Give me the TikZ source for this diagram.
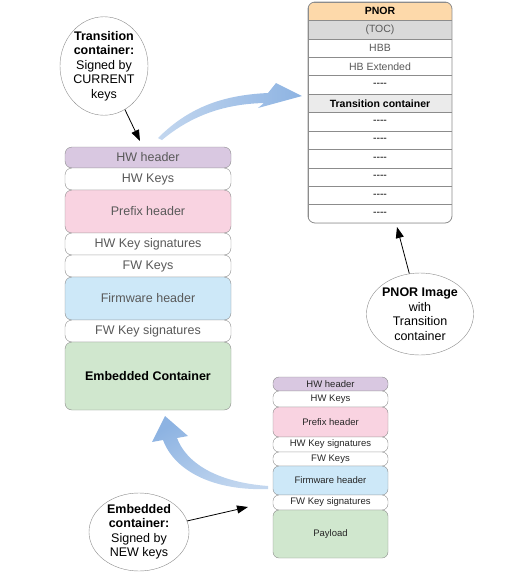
\documentclass[tikz,border=0pt]{standalone}
\usepackage{fontspec}
\setmainfont{Liberation Sans}
\usetikzlibrary{shapes.geometric,arrows.meta,calc}
\definecolor{bordc}{HTML}{8C8C8C}
\definecolor{txtg}{HTML}{595959}
\definecolor{hwc}{HTML}{D9C8E1}
\definecolor{prec}{HTML}{F9D3E1}
\definecolor{fwc}{HTML}{CDE8F8}
\definecolor{embc}{HTML}{D0E7CE}
\definecolor{pnorc}{HTML}{FDD9AA}
\definecolor{tocc}{HTML}{D9D9D9}
\definecolor{trc}{HTML}{EBEBEB}
\definecolor{bluea}{HTML}{8DB3E2}
\definecolor{blueb}{HTML}{C3D7EF}
\newcommand{\dsh}{-{}-{}-{}-}
\begin{document}
\begin{tikzpicture}[x=1pt,y=-1pt,
  bigrow/.style={draw=bordc, rounded corners=7pt, minimum width=166pt, inner sep=0pt, font=\fontsize{12.5}{14}\selectfont, text=txtg, fill=white},
  smallrow/.style={draw=bordc, rounded corners=6pt, minimum width=115pt, inner sep=0pt, font=\fontsize{9.5}{10}\selectfont, text=black!85, fill=white},
  pnorrow/.style={draw=bordc, minimum width=144pt, minimum height=18.42pt, inner sep=0pt, font=\fontsize{10.5}{12}\selectfont, fill=white},
  bubble/.style={ellipse, draw=bordc, fill=white, inner sep=0pt, align=center, font=\fontsize{12.5}{14.5}\selectfont},
  ptr/.style={draw=black, thick, -{Triangle[length=11pt,width=8pt]}}
]
\useasboundingbox (0,0) rectangle (504,579);
% left stack
\node[bigrow, fill=hwc, minimum height=21pt] (lhwh) at (148,157.5) {HW header};
\node[bigrow, minimum height=22pt] (lhwk) at (148,179) {HW Keys};
\node[bigrow, fill=prec, minimum height=43pt] (lpre) at (148,211.5) {Prefix header};
\node[bigrow, minimum height=22pt] (lhks) at (148,244) {HW Key signatures};
\node[bigrow, minimum height=22pt] (lfwk) at (148,266) {FW Keys};
\node[bigrow, fill=fwc, minimum height=43pt] (lfwh) at (148,298.5) {Firmware header};
\node[bigrow, minimum height=22pt] (lfks) at (148,331) {FW Key signatures};
\node[bigrow, fill=embc, minimum height=68pt, text=black, font=\fontsize{12.5}{14}\selectfont\bfseries] (lemb) at (148,376) {Embedded Container};
% right small stack
\node[smallrow, fill=hwc, minimum height=14pt] (shwh) at (330.5,384) {HW\ header};
\node[smallrow, minimum height=16pt] (shwk) at (330.5,399) {HW\ Keys};
\node[smallrow, fill=prec, minimum height=30pt] (spre) at (330.5,422) {Prefix header};
\node[smallrow, minimum height=15pt] (shks) at (330.5,444.5) {HW\ Key signatures};
\node[smallrow, minimum height=14pt] (sfwk) at (330.5,459) {FW\ Keys};
\node[smallrow, fill=fwc, minimum height=29pt] (sfwh) at (330.5,480.5) {Firmware header};
\node[smallrow, minimum height=15pt] (sfks) at (330.5,502.5) {FW\ Key signatures};
\node[smallrow, fill=embc, minimum height=48pt] (spay) at (330.5,534) {Payload};
% PNOR
\begin{scope}
\clip[rounded corners=7pt] (308,2) rectangle (452,223);
\node[pnorrow, fill=pnorc, font=\fontsize{10.5}{12}\selectfont\bfseries] (p0) at (380,11.21) {PNOR};
\node[pnorrow, fill=tocc, text=txtg] (p1) at (380,29.63) {(TOC)};
\node[pnorrow, text=txtg] (p2) at (380,48.05) {HBB};
\node[pnorrow, text=txtg] (p3) at (380,66.47) {HB Extended};
\node[pnorrow] (p4) at (380,84.89) {\dsh};
\node[pnorrow, fill=trc, font=\fontsize{10.5}{12}\selectfont\bfseries] (p5) at (380,103.31) {Transition container};
\node[pnorrow] (p6) at (380,121.73) {\dsh};
\node[pnorrow] (p7) at (380,140.15) {\dsh};
\node[pnorrow] (p8) at (380,158.57) {\dsh};
\node[pnorrow] (p9) at (380,176.99) {\dsh};
\node[pnorrow] (p10) at (380,195.41) {\dsh};
\node[pnorrow] (p11) at (380,213.83) {\dsh};
\end{scope}
\draw[bordc, rounded corners=7pt, line width=0.8pt] (308,2) rectangle (452,223);
% blue arrows
\shade[left color=blueb, right color=bluea]
  (158,138) .. controls (190,106) and (225,95) .. (268,93)
  -- (276,83) -- (302,96) -- (258,108) -- (264,103)
  .. controls (225,104) and (192,115) .. (162,140) -- cycle;
\shade[top color=bluea, bottom color=blueb, shading angle=30]
  (268,489) .. controls (215,491) and (175,472) .. (163,440)
  -- (152,442) -- (165,416) -- (188,436) -- (177,438)
  .. controls (186,462) and (215,482) .. (268,486) -- cycle;
% bubbles
\node[bubble, minimum width=88pt, minimum height=88pt] (btr) at (104,66) {\textbf{Transition}\\\textbf{container:}\\Signed by\\CURRENT\\keys};
\node[bubble, minimum width=100pt, minimum height=78pt] (bemb) at (139,532) {\textbf{Embedded}\\\textbf{container:}\\Signed by\\NEW keys};
\node[bubble, minimum width=96pt, minimum height=82pt] (bpnor) at (420,314) {\textbf{PNOR Image}\\with\\Transition\\container};
% pointers
\coordinate (t1) at (140,141);
\coordinate (t2) at (248,507);
\coordinate (t3) at (397,227);
\draw[ptr] (btr) -- (t1);
\draw[ptr] (bemb) -- (t2);
\draw[ptr] (bpnor) -- (t3);
\end{tikzpicture}
\end{document}
